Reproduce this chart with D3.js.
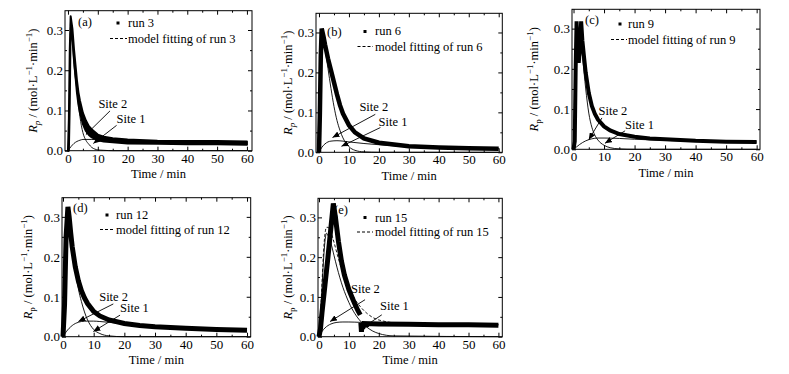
<!DOCTYPE html>
<html>
<head>
<meta charset="utf-8">
<script src="https://cdn.jsdelivr.net/npm/d3@7/dist/d3.min.js"></script>
<style>
body { margin: 0; background: #fff; }
text { font-family: "Liberation Serif", "Times New Roman", serif; fill: #000; }
</style>
</head>
<body>
<script>
// ---------- ticks ----------
var xTicks = [0, 10, 20, 30, 40, 50, 60],
  xMinor = [5, 15, 25, 35, 45, 55],
  yTicks = [0.0, 0.1, 0.2, 0.3],
  yMinor = [0.05, 0.15, 0.25];

// ---------- run 3 (a) : noisy band, lower / upper edge ----------
var run3T = [0, 0.3, 0.6, 0.9, 1.5, 2, 2.5, 3, 3.5, 4, 5, 6, 7, 8, 10, 12, 15, 20, 30, 40, 50, 60],
  run3Lo = [0, 0, 0.12, 0.32, 0.278, 0.227, 0.186, 0.145, 0.115, 0.095, 0.066, 0.049, 0.039, 0.033, 0.026, 0.023, 0.021, 0.018, 0.017, 0.016, 0.016, 0.015],
  run3Hi = [0, 0.08, 0.25, 0.334, 0.302, 0.253, 0.214, 0.175, 0.145, 0.125, 0.094, 0.075, 0.061, 0.053, 0.04, 0.035, 0.031, 0.028, 0.025, 0.024, 0.024, 0.023];
var fitAT = [0, 0.3, 0.6, 0.9, 1.5, 2, 2.5, 3, 3.5, 4, 5, 6, 7, 8, 10, 12, 15, 20, 30, 40, 60],
  fitAV = [0, 0.04, 0.18, 0.33, 0.29, 0.24, 0.2, 0.16, 0.13, 0.11, 0.08, 0.062, 0.05, 0.043, 0.033, 0.029, 0.026, 0.023, 0.021, 0.02, 0.019];
var site1AT = [0, 1, 2, 3, 4, 5, 6, 8, 10, 15, 20, 30, 40, 60],
  site1AV = [0, 0.01, 0.018, 0.023, 0.026, 0.028, 0.028, 0.028, 0.027, 0.025, 0.023, 0.021, 0.02, 0.019];
var site2AT = [0, 0.3, 0.6, 0.9, 1.5, 2, 3, 4, 5, 6, 7, 8, 9, 10, 12, 15, 60],
  site2AV = [0, 0.06, 0.2, 0.3, 0.27, 0.215, 0.15, 0.085, 0.045, 0.026, 0.016, 0.008, 0.004, 0.002, 0.001, 0, 0];

// ---------- run 6 (b) ----------
var run6T = [0, 0.3, 0.6, 0.9, 1.5, 2, 3, 4, 5, 6, 7, 8, 10, 12, 15, 20, 30, 40, 50, 60],
  run6V = [0, 0.1, 0.24, 0.31, 0.29, 0.27, 0.235, 0.205, 0.175, 0.145, 0.118, 0.097, 0.068, 0.05, 0.035, 0.024, 0.015, 0.012, 0.01, 0.009];
var fitBT = [0, 0.3, 0.6, 0.9, 1.5, 2, 3, 4, 5, 6, 7, 8, 10, 12, 15, 20, 30, 40, 60],
  fitBV = [0, 0.08, 0.225, 0.305, 0.29, 0.27, 0.235, 0.2, 0.17, 0.14, 0.115, 0.095, 0.067, 0.05, 0.035, 0.024, 0.015, 0.012, 0.009];
var site1BT = [0, 1, 2, 3, 4, 6, 8, 10, 15, 20, 30, 40, 60],
  site1BV = [0, 0.013, 0.021, 0.026, 0.028, 0.029, 0.028, 0.026, 0.022, 0.019, 0.014, 0.011, 0.009];
var site2BT = [0, 0.3, 0.6, 0.9, 1.5, 2, 3, 4, 5, 6, 7, 8, 9, 10, 12, 15, 20, 60],
  site2BV = [0, 0.08, 0.22, 0.3, 0.28, 0.26, 0.21, 0.16, 0.115, 0.08, 0.055, 0.036, 0.023, 0.014, 0.005, 0.001, 0, 0];

// ---------- run 9 (c) : double spike ----------
var run9T = [0, 0.4, 0.7, 1.0, 1.4, 1.7, 2.0, 2.5, 2.9, 3.5, 4, 5, 6, 7, 8, 10, 12, 15, 20, 25, 30, 40, 50, 60],
  run9V = [0, 0.02, 0.2, 0.318, 0.24, 0.215, 0.24, 0.318, 0.27, 0.225, 0.19, 0.14, 0.108, 0.088, 0.074, 0.057, 0.047, 0.038, 0.031, 0.027, 0.025, 0.021, 0.019, 0.018];
var fitCT = [0, 0.5, 1, 1.5, 1.7, 2, 2.5, 3, 4, 5, 6, 7, 8, 10, 12, 15, 20, 30, 40, 50, 60],
  fitCV = [0, 0.08, 0.23, 0.275, 0.278, 0.28, 0.27, 0.24, 0.18, 0.135, 0.105, 0.086, 0.072, 0.056, 0.046, 0.037, 0.03, 0.024, 0.021, 0.019, 0.018];
var site1CT = [0, 1, 2, 3, 4, 6, 8, 10, 15, 20, 30, 40, 60],
  site1CV = [0, 0.006, 0.012, 0.017, 0.021, 0.026, 0.028, 0.028, 0.027, 0.025, 0.022, 0.02, 0.018];
var site2CT = [0, 0.5, 1, 1.5, 2, 2.5, 3, 4, 5, 6, 7, 8, 10, 12, 15, 20, 60],
  site2CV = [0, 0.08, 0.22, 0.27, 0.275, 0.26, 0.225, 0.15, 0.09, 0.055, 0.035, 0.023, 0.01, 0.004, 0.001, 0, 0];

// ---------- run 12 (d) ----------
var run12T = [0, 0.5, 1, 1.6, 2, 2.5, 3, 4, 5, 6, 7, 8, 10, 12, 15, 20, 25, 30, 40, 50, 60],
  run12V = [0, 0.08, 0.25, 0.325, 0.3, 0.26, 0.225, 0.175, 0.14, 0.115, 0.097, 0.083, 0.063, 0.052, 0.042, 0.033, 0.028, 0.025, 0.021, 0.018, 0.016];
var fitDT = [0, 0.5, 1, 1.6, 2, 3, 4, 5, 6, 7, 8, 10, 12, 15, 20, 30, 40, 50, 60],
  fitDV = [0, 0.075, 0.235, 0.305, 0.295, 0.235, 0.18, 0.142, 0.116, 0.097, 0.083, 0.063, 0.052, 0.042, 0.033, 0.025, 0.021, 0.018, 0.016];
var site1DT = [0, 1, 2, 3, 4, 5, 6, 8, 10, 12, 15, 20, 30, 40, 60],
  site1DV = [0, 0.012, 0.021, 0.028, 0.033, 0.036, 0.038, 0.039, 0.039, 0.038, 0.036, 0.032, 0.026, 0.021, 0.016];
var site2DT = [0, 0.5, 1, 1.6, 2, 3, 4, 5, 6, 7, 8, 9, 10, 12, 15, 20, 60],
  site2DV = [0, 0.07, 0.22, 0.29, 0.28, 0.22, 0.165, 0.12, 0.088, 0.062, 0.042, 0.028, 0.018, 0.008, 0.002, 0, 0];

// ---------- run 15 (e) : two segments, null = gap ----------
var run15T = [0, 0.5, 1, 2, 3, 4, 4.8, 5.5, 6.5, 7.5, 8.5, 10, 11, 12, 13, 13.8, null, 14, 14.2, 14.4, 14.6, 15, 20, 30, 40, 50, 60],
  run15V = [0, 0.02, 0.06, 0.13, 0.2, 0.275, 0.335, 0.3, 0.24, 0.19, 0.155, 0.118, 0.1, 0.082, 0.066, 0.055, null, 0.035, 0.012, 0.034, 0.02, 0.033, 0.032, 0.031, 0.03, 0.03, 0.029];
var fitET = [0, 0.5, 1, 1.5, 2, 2.5, 3, 4, 5, 6, 7, 8, 10, 12, 14, 16, 20, 30, 40, 60],
  fitEV = [0, 0.056, 0.133, 0.21, 0.258, 0.275, 0.275, 0.262, 0.238, 0.21, 0.184, 0.16, 0.122, 0.094, 0.074, 0.059, 0.042, 0.032, 0.031, 0.03];
var site1ET = [0, 1, 2, 3, 4, 6, 8, 10, 14, 20, 30, 40, 60],
  site1EV = [0, 0.013, 0.022, 0.028, 0.032, 0.036, 0.037, 0.037, 0.036, 0.034, 0.032, 0.031, 0.03];
var site2ET = [0, 0.5, 1, 1.5, 2, 2.5, 3, 4, 5, 6, 7, 8, 9, 10, 12, 14, 16, 18, 20, 25, 60],
  site2EV = [0, 0.05, 0.12, 0.19, 0.24, 0.26, 0.255, 0.235, 0.205, 0.175, 0.148, 0.124, 0.104, 0.086, 0.058, 0.038, 0.024, 0.014, 0.008, 0.002, 0];

// ---------- "Site" annotations: [text t, text v, from t, from v, to t, to v] ----------
var site2NoteA = [10.2, 0.105, 14.1, 0.099, 6, 0.04], site1NoteA = [16.3, 0.068, 16.3, 0.063, 8.5, 0.018];
var site2NoteB = [13.5, 0.103, 18.8, 0.095, 4.5, 0.037], site1NoteB = [19.9, 0.066, 20.5, 0.062, 7.5, 0.015];
var site2NoteC = [8.2, 0.086, 9.3, 0.078, 5, 0.024], site1NoteC = [16.9, 0.05, 16.9, 0.046, 10.3, 0.015];
var site2NoteD = [11.8, 0.089, 16.4, 0.082, 5, 0.038], site1NoteD = [18.6, 0.061, 18.6, 0.054, 9.9, 0.013];
var site2NoteE = [10.7, 0.109, 15.4, 0.093, 3.7, 0.038], site1NoteE = [20.4, 0.067, 21, 0.055, 14.3, 0.021];

function pts(t, v) {
  return t.map(function (d, i) { return [d, v[i]]; });
}

var width = 789, height = 374, fs = 12.5;
var svg = d3.select("body").append("svg")
  .attr("width", width)
  .attr("height", height);

svg.append("defs").append("marker")
  .attr("id", "arr")
  .attr("markerUnits", "userSpaceOnUse")
  .attr("markerWidth", 8).attr("markerHeight", 6)
  .attr("refX", 7).attr("refY", 3)
  .attr("orient", "auto")
  .append("path").attr("d", "M0,0L7,3L0,6Z").attr("fill", "#000");

var panels = [
  { tag: "(a)", run: "run 3", lo: pts(run3T, run3Lo), hi: pts(run3T, run3Hi),
    fit: pts(fitAT, fitAV), s1: pts(site1AT, site1AV), s2: pts(site2AT, site2AV),
    n2: site2NoteA, n1: site1NoteA, italicP: true,
    box: [65, 10.7, 252, 150.7], xdom: [-1, 61.7], tagPos: [78, 26],
    leg: [118, 23, 128, 27, 110, 127, 38.5, 43], yLab: 37 },
  { tag: "(b)", run: "run 6", data: pts(run6T, run6V), w: 4.5,
    fit: pts(fitBT, fitBV), s1: pts(site1BT, site1BV), s2: pts(site2BT, site2BV),
    n2: site2NoteB, n1: site1NoteB, italicP: true,
    box: [316, 13.3, 502.3, 152.3], xdom: [-1, 61.2], tagPos: [327, 36],
    leg: [365, 31.5, 375, 35, 357.5, 373, 46.5, 50.5], yLab: 292 },
  { tag: "(c)", run: "run 9", data: pts(run9T, run9V), w: 4,
    fit: pts(fitCT, fitCV), s1: pts(site1CT, site1CV), s2: pts(site2CT, site2CV),
    n2: site2NoteC, n1: site1NoteC, italicP: false,
    box: [572, 9.3, 760, 149.3], xdom: [-0.5, 61.1], tagPos: [585, 24],
    leg: [620, 24, 628, 28, 611, 627, 39.5, 43.5], yLab: 538 },
  { tag: "(d)", run: "run 12", data: pts(run12T, run12V), w: 5,
    fit: pts(fitDT, fitDV), s1: pts(site1DT, site1DV), s2: pts(site2DT, site2DV),
    n2: site2NoteD, n1: site1NoteD, italicP: false,
    box: [62, 197.7, 250.7, 336.7], xdom: [-0.33, 61.2], tagPos: [73, 212],
    leg: [107, 215, 116, 219, 100, 115, 229.5, 233.5], yLab: 32 },
  { tag: "(e)", run: "run 15", data: pts(run15T, run15V), w: 5,
    fit: pts(fitET, fitEV), s1: pts(site1ET, site1EV), s2: pts(site2ET, site2EV),
    n2: site2NoteE, n1: site1NoteE, italicP: false,
    box: [318, 198.3, 502.3, 336.7], xdom: [-0.33, 61.3], tagPos: [334, 214],
    leg: [365, 217.5, 375, 221.5, 357, 373, 232, 236], yLab: 292 }
];

panels.forEach(function (p) {
  var L = p.box[0], T = p.box[1], R = p.box[2], B = p.box[3];
  var x = d3.scaleLinear().domain(p.xdom).range([L, R]);
  var y = d3.scaleLinear().domain([0, 0.348]).range([B, T]);
  var g = svg.append("g");

  var line = d3.line()
    .defined(function (d) { return d[0] !== null; })
    .x(function (d) { return x(d[0]); })
    .y(function (d) { return y(d[1]); });
  var smooth = d3.line()
    .curve(d3.curveMonotoneX)
    .x(function (d) { return x(d[0]); })
    .y(function (d) { return y(d[1]); });

  // site curves (thin)
  [p.s1, p.s2].forEach(function (s) {
    g.append("path").attr("d", smooth(s))
      .attr("fill", "none").attr("stroke", "#000").attr("stroke-width", 0.9);
  });

  // experimental data
  if (p.lo) {
    var area = d3.area()
      .x(function (d) { return x(d[0]); })
      .y0(function (d) { return y(d[1]); })
      .y1(function (d, i) { return y(p.hi[i][1]); });
    g.append("path").attr("d", area(p.lo))
      .attr("fill", "#000").attr("stroke", "#000").attr("stroke-width", 2)
      .attr("stroke-linejoin", "round");
  } else {
    g.append("path").attr("d", line(p.data))
      .attr("fill", "none").attr("stroke", "#000").attr("stroke-width", p.w)
      .attr("stroke-linejoin", "miter").attr("stroke-miterlimit", 3);
  }

  // model fitting (dashed)
  g.append("path").attr("d", smooth(p.fit))
    .attr("fill", "none").attr("stroke", "#000").attr("stroke-width", 0.9)
    .attr("stroke-dasharray", "3,2");

  // annotations
  [[p.n2, "Site 2"], [p.n1, "Site 1"]].forEach(function (n) {
    var a = n[0];
    g.append("line")
      .attr("x1", x(a[2])).attr("y1", y(a[3]))
      .attr("x2", x(a[4])).attr("y2", y(a[5]))
      .attr("stroke", "#000").attr("stroke-width", 0.9)
      .attr("marker-end", "url(#arr)");
    g.append("text").attr("x", x(a[0])).attr("y", y(a[1]))
      .attr("font-size", fs).text(n[1]);
  });

  // frame
  g.append("rect").attr("x", L).attr("y", T)
    .attr("width", R - L).attr("height", B - T)
    .attr("fill", "none").attr("stroke", "#000").attr("stroke-width", 1);

  // axes, ticks inward
  function ax(axis, tr, vals, size, labels) {
    var a = axis.tickValues(vals).tickSize(-size).tickPadding(2);
    if (!labels) a.tickFormat("");
    var ag = g.append("g").attr("transform", tr).call(a);
    ag.select(".domain").remove();
    ag.attr("font-family", "Liberation Serif").attr("font-size", 13);
    return ag;
  }
  var bx = ax(d3.axisBottom(x), "translate(0," + B + ")", xTicks, 4, true);
  bx.selectAll("text").attr("dy", "0.78em");
  ax(d3.axisBottom(x), "translate(0," + B + ")", xMinor, 2, false);
  ax(d3.axisTop(x), "translate(0," + T + ")", xTicks, 4, false);
  ax(d3.axisTop(x), "translate(0," + T + ")", xMinor, 2, false);
  var ly = ax(d3.axisLeft(y).tickFormat(d3.format(".1f")), "translate(" + L + ",0)", yTicks, 4, true);
  ly.selectAll("text").attr("dy", "0.33em");
  ax(d3.axisLeft(y), "translate(" + L + ",0)", yMinor, 2, false);
  ax(d3.axisRight(y), "translate(" + R + ",0)", yTicks, 4, false);
  ax(d3.axisRight(y), "translate(" + R + ",0)", yMinor, 2, false);

  // axis titles
  g.append("text").attr("x", (L + R) / 2).attr("y", B + 27.5)
    .attr("text-anchor", "middle").attr("font-size", fs).text("Time / min");

  var yl = g.append("text")
    .attr("transform", "translate(" + p.yLab + "," + (T + B) / 2 + ") rotate(-90)")
    .attr("text-anchor", "middle").attr("font-size", fs);
  yl.append("tspan").attr("font-style", "italic").text("R");
  yl.append("tspan").attr("font-size", 9).attr("dy", 3)
    .attr("font-style", p.italicP ? "italic" : "normal").text("p");
  yl.append("tspan").attr("dy", -3).text(" / (mol·L");
  yl.append("tspan").attr("font-size", 9).attr("dy", -5).text("−1");
  yl.append("tspan").attr("dy", 5).text("·min");
  yl.append("tspan").attr("font-size", 9).attr("dy", -5).text("−1");
  yl.append("tspan").attr("dy", 5).text(")");

  // panel tag and legend
  g.append("text").attr("x", p.tagPos[0]).attr("y", p.tagPos[1])
    .attr("font-size", fs).text(p.tag);
  var lg = p.leg;
  g.append("rect").attr("x", lg[0] - 1.5).attr("y", lg[1] - 1.5)
    .attr("width", 3).attr("height", 3).attr("fill", "#000");
  g.append("text").attr("x", lg[2]).attr("y", lg[3]).attr("font-size", fs).text(p.run);
  g.append("line").attr("x1", lg[4]).attr("x2", lg[5]).attr("y1", lg[6]).attr("y2", lg[6])
    .attr("stroke", "#000").attr("stroke-width", 1).attr("stroke-dasharray", "3,2");
  g.append("text").attr("x", lg[2]).attr("y", lg[7]).attr("font-size", fs)
    .text("model fitting of " + p.run);
});
</script>
</body>
</html>
